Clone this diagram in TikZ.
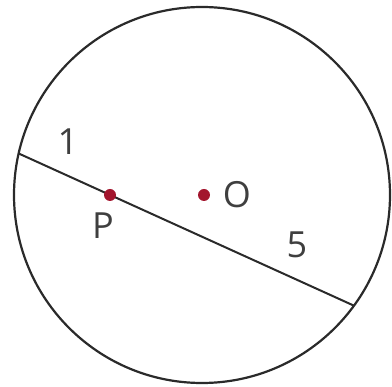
\documentclass[tikz,border=0pt]{standalone}
\usepackage{fontspec}
\setmainfont{Open Sans}
\usepackage{xcolor}
\definecolor{dotred}{HTML}{A3162E}
\definecolor{inkdark}{HTML}{2A2A2A}
\usetikzlibrary{positioning, calc}

\begin{document}
\begin{tikzpicture}[
        x=1pt, y=-1pt,
        rim_line/.style={
            draw=inkdark,
            line width=2.2pt
        },
        chord_line/.style={
            draw=inkdark,
            line width=2pt
        },
        point_dot/.style={
            circle,
            fill=dotred,
            inner sep=0pt,
            minimum size=12pt
        },
        label_text/.style={
            text=inkdark!90,
            inner sep=0pt,
            font=\fontsize{36}{40}\selectfont
        }
    ]

    % Frame
    \useasboundingbox (0,0) rectangle (392,387);

    % Circle and chord
    \coordinate (centre) at (202,195);
    \coordinate (chordL) at (18.7,153.5);
    \coordinate (chordR) at (354,305.7);
    \draw[rim_line] (centre) circle[radius=188pt];
    \draw[chord_line] (chordL) -- (chordR);

    % Points
    \node[point_dot] (ptP) at (110,195) {};
    \node[point_dot] (ptO) at (204,195) {};

    % Labels
    \node[label_text] (lblP) at (103,226) {P};
    \node[label_text] (lblO) at (237,195) {O};
    \node[label_text] (lbl1) at (68,142) {1};
    \node[label_text] (lbl5) at (297,245) {5};

\end{tikzpicture}
\end{document}
